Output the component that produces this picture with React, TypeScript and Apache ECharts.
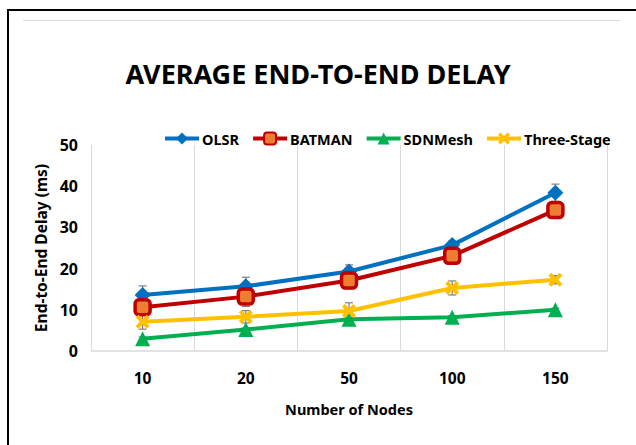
import React, { useEffect, useRef } from "react";
import * as echarts from "echarts";

const categories = ["10", "20", "50", "100", "150"];
const olsr = [13.6, 15.7, 19.3, 25.7, 38.4];
const batman = [10.6, 13.2, 17.1, 23.1, 34.2];
const sdnmesh = [3.0, 5.2, 7.7, 8.2, 10.0];
const threeStage = [7.1, 8.3, 9.7, 15.3, 17.3];
const olsrErr = [2.2, 2.2, 1.6, 1.0, 2.1];
const batmanErr = [1.5, 2.4, 2.0, 1.0, 1.0];
const sdnmeshErr = [0.4, 0.4, 0.4, 0.4, 0.4];
const threeStageErr = [1.8, 1.5, 2.0, 1.7, 1.0];
const yTicks = [0, 10, 20, 30, 40, 50];

const FONT = "Noto Sans";
const X_SYMBOL =
  "path://M2,0 L5,3 L8,0 L10,2 L7,5 L10,8 L8,10 L5,7 L2,10 L0,8 L3,5 L0,2 Z";

function errSeries(vals: number[], errs: number[]) {
  return {
    type: "custom",
    z: 1,
    silent: true,
    data: vals.map((v, i) => [i, v - errs[i], v + errs[i]]),
    renderItem: (params: any, api: any) => {
      const lo = api.coord([api.value(0), api.value(1)]);
      const hi = api.coord([api.value(0), api.value(2)]);
      const w = 4;
      const style = { stroke: "#7F7F7F", lineWidth: 1.2 };
      return {
        type: "group",
        children: [
          { type: "line", shape: { x1: lo[0], y1: lo[1], x2: hi[0], y2: hi[1] }, style },
          { type: "line", shape: { x1: lo[0] - w, y1: lo[1], x2: lo[0] + w, y2: lo[1] }, style },
          { type: "line", shape: { x1: hi[0] - w, y1: hi[1], x2: hi[0] + w, y2: hi[1] }, style },
        ],
      };
    },
  };
}

export default function App() {
  const ref = useRef<HTMLDivElement>(null);
  useEffect(() => {
    const chart = echarts.init(ref.current!, null, { renderer: "svg" });
    const lineBase = { type: "line", z: 3, symbolSize: 14 };
    chart.setOption({
      animation: false,
      backgroundColor: "#fff",
      textStyle: { fontFamily: FONT },
      graphic: [
        { type: "line", shape: { x1: 7, y1: 10, x2: 636, y2: 10 }, style: { stroke: "#000", lineWidth: 2 } },
        { type: "line", shape: { x1: 8, y1: 10, x2: 8, y2: 445 }, style: { stroke: "#000", lineWidth: 2 } },
        { type: "line", shape: { x1: 23, y1: 20.5, x2: 620, y2: 20.5 }, style: { stroke: "#D9D9D9", lineWidth: 1 } },
      ],
      title: {
        text: "AVERAGE END-TO-END DELAY",
        left: "center",
        top: 55,
        textStyle: { fontFamily: FONT, fontWeight: "bold", fontSize: 27, color: "#000" },
      },
      legend: {
        data: ["OLSR", "BATMAN", "SDNMesh", "Three-Stage"],
        top: 126,
        left: 158,
        itemWidth: 34,
        itemHeight: 15,
        itemGap: 12,
        lineStyle: { width: 4 },
        textStyle: { fontFamily: FONT, fontWeight: "bold", fontSize: 14.5, color: "#000", padding: [0, 0, 0, -2] },
      },
      grid: { left: 91, right: 29, top: 145, bottom: 94, containLabel: false },
      xAxis: {
        type: "category",
        data: categories,
        boundaryGap: true,
        axisTick: { show: false },
        axisLine: { lineStyle: { color: "#D9D9D9", width: 1.5 } },
        splitLine: { show: true, lineStyle: { color: "#D9D9D9", width: 1 } },
        axisLabel: { color: "#000", fontWeight: "bold", fontSize: 15.5, margin: 19, fontFamily: FONT },
        name: "Number of Nodes",
        nameLocation: "middle",
        nameGap: 50,
        nameTextStyle: { color: "#000", fontWeight: "bold", fontSize: 14.5, fontFamily: FONT },
      },
      yAxis: {
        type: "value",
        min: yTicks[0],
        max: yTicks[yTicks.length - 1],
        interval: 10,
        splitLine: { show: false },
        axisLine: { show: false },
        axisTick: { show: false },
        axisLabel: { color: "#000", fontWeight: "bold", fontSize: 16, margin: 13, fontFamily: FONT },
        name: "End-to-End Delay (ms)",
        nameLocation: "middle",
        nameGap: 42,
        nameTextStyle: { color: "#000", fontWeight: "bold", fontSize: 15.5, fontFamily: FONT },
      },
      series: [
        {
          ...lineBase,
          name: "OLSR",
          data: olsr,
          symbol: "diamond",
          symbolSize: 16,
          lineStyle: { color: "#0070C0", width: 4 },
          itemStyle: { color: "#0070C0" },
        },
        {
          ...lineBase,
          name: "BATMAN",
          data: batman,
          symbol: "roundRect",
          symbolSize: 15,
          lineStyle: { color: "#C00000", width: 4 },
          itemStyle: { color: "#ED7D31", borderColor: "#C00000", borderWidth: 3.5 },
        },
        {
          ...lineBase,
          name: "SDNMesh",
          data: sdnmesh,
          symbol: "triangle",
          symbolSize: 15,
          lineStyle: { color: "#00B050", width: 4 },
          itemStyle: { color: "#00B050" },
        },
        {
          ...lineBase,
          name: "Three-Stage",
          data: threeStage,
          symbol: X_SYMBOL,
          symbolSize: 14,
          lineStyle: { color: "#FFC000", width: 4 },
          itemStyle: { color: "#FFC000" },
        },
        errSeries(olsr, olsrErr),
        errSeries(batman, batmanErr),
        errSeries(sdnmesh, sdnmeshErr),
        errSeries(threeStage, threeStageErr),
      ],
    });
    return () => chart.dispose();
  }, []);
  return (
    <div
      ref={ref}
      style={{ position: "fixed", left: 0, top: 0, width: 636, height: 445 }}
    />
  );
}
